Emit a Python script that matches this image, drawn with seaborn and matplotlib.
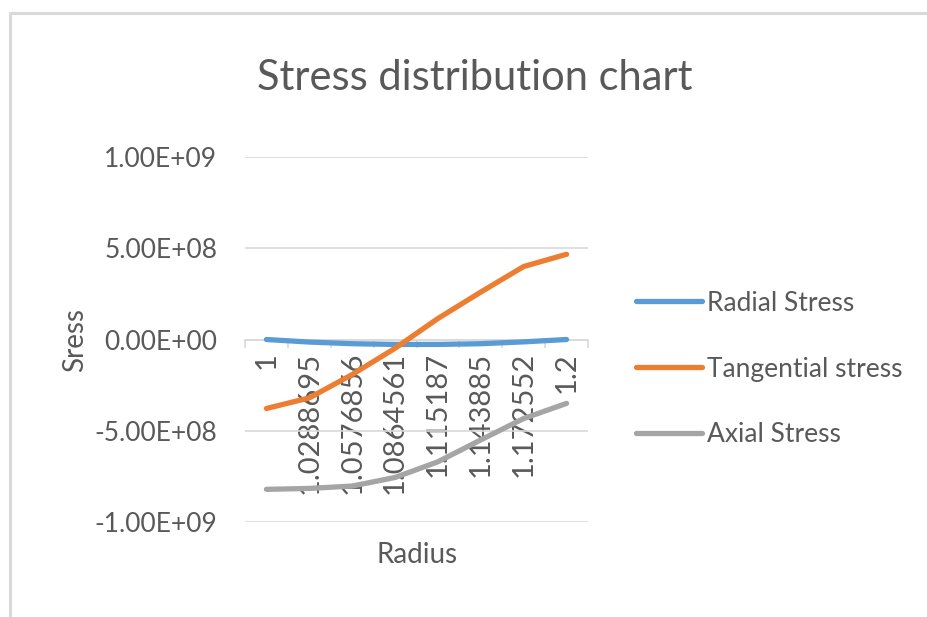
import matplotlib
matplotlib.use("Agg")
import matplotlib.pyplot as plt
import seaborn as sns
import pandas as pd
import numpy as np
from matplotlib.lines import Line2D
from matplotlib.ticker import FuncFormatter

radius_labels = ["1", "1.0288695", "1.0576856", "1.0864561", "1.115187",
                 "1.143885", "1.172552", "1.2"]
radial = [0.0, -1.4e7, -2.3e7, -2.7e7, -2.7e7, -2.3e7, -1.3e7, 0.0]
tangential = [-3.78e8, -3.2e8, -1.92e8, -4.8e7, 1.15e8, 2.6e8, 4.0e8, 4.67e8]
axial = [-8.21e8, -8.16e8, -8.03e8, -7.56e8, -6.7e8, -5.5e8, -4.33e8, -3.5e8]
series_names = ["Radial Stress", "Tangential stress", "Axial Stress"]
colors = ["#5b9bd5", "#ed7d31", "#a5a5a5"]
y_ticks = [-1e9, -5e8, 0, 5e8, 1e9]

sns.set_theme(style="white")
plt.rcParams["font.family"] = ["Lato", "DejaVu Sans"]
TXT = "#595959"
GRID = "#d9d9d9"

pos = np.arange(len(radius_labels))
df = pd.concat([
    pd.DataFrame({"pos": pos, "value": vals, "series": name})
    for name, vals in zip(series_names, [radial, tangential, axial])
])

fig = plt.figure(figsize=(9.27, 6.17), dpi=100)
ax = fig.add_axes([245/927, 1-522/617, (588-245)/927, (522-157)/617])

sns.lineplot(data=df, x="pos", y="value", hue="series", palette=colors,
             hue_order=series_names, linewidth=3.8, sort=False, ax=ax,
             legend=False, solid_capstyle="round", zorder=3)

ax.set_xlim(-0.5, len(radius_labels) - 0.5)
ax.set_ylim(-1e9, 1e9)
ax.set_yticks(y_ticks)
ax.yaxis.set_major_formatter(FuncFormatter(lambda v, p: f"{v:.2E}"))
ax.tick_params(axis="y", length=0, pad=20, labelsize=19, labelcolor=TXT)
ax.yaxis.grid(True, color=GRID, linewidth=1.2)
ax.xaxis.grid(False)

for s in ["top", "right", "left"]:
    ax.spines[s].set_visible(False)
ax.spines["bottom"].set_position(("data", 0))
ax.spines["bottom"].set_color(GRID)
ax.spines["bottom"].set_linewidth(1.2)

ax.set_xticks(np.arange(-0.5, len(radius_labels)), labels=[""] * (len(radius_labels) + 1))
ax.tick_params(axis="x", which="major", length=6, width=1.2, color=GRID, direction="out", bottom=True)
ax.set_xticks(pos, minor=True)
ax.set_xticklabels(radius_labels, minor=True, rotation=90)
ax.tick_params(axis="x", which="minor", length=0, pad=9, labelsize=21, labelcolor=TXT, bottom=True)
ax.set_xlabel("")
ax.set_ylabel("")

fig.text(475/927, 1-78/617, "Stress distribution chart", ha="center", va="center",
         fontsize=30, color=TXT)
fig.text(417/927, 1-555/617, "Radius", ha="center", va="center", fontsize=20, color=TXT)
fig.text(75/927, 1-340/617, "Sress", ha="center", va="center", rotation=90,
         fontsize=20, color=TXT)

handles = [Line2D([0], [0], color=c, linewidth=3.8, solid_capstyle="round") for c in colors]
ax.legend(handles, series_names, loc="center left", bbox_to_anchor=(636/927, 1-369/617),
          bbox_transform=fig.transFigure, frameon=False, fontsize=19,
          handlelength=2.5, handletextpad=0.2, labelspacing=1.55,
          borderpad=0, borderaxespad=0, labelcolor=TXT)

fig.add_artist(Line2D([10/927, 10/927], [0, 1-13/617], transform=fig.transFigure,
                      color=GRID, linewidth=2.2))
fig.add_artist(Line2D([10/927, 1], [1-13/617, 1-13/617], transform=fig.transFigure,
                      color=GRID, linewidth=2.2))

fig.savefig("out.png", dpi=100)
